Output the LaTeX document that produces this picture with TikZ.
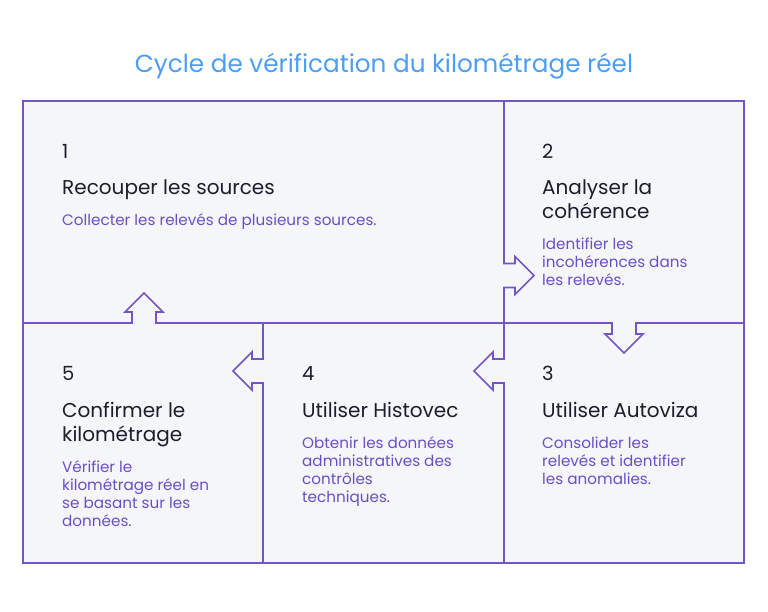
\documentclass[tikz,border=0pt]{standalone}
\usepackage{fontspec}
\setmainfont{Poppins}
\usepackage{tikz}
\definecolor{cyclepurple}{HTML}{7356C4}
\definecolor{cycletext}{HTML}{6A4FC6}
\definecolor{cycleblue}{HTML}{4C9DF6}
\definecolor{cyclefill}{HTML}{F5F6FA}
\definecolor{cycledark}{HTML}{1D1D2B}

\begin{document}
\begin{tikzpicture}[
    x=1pt, y=-1pt,
    frame/.style={draw=cyclepurple, line width=1.6pt, line join=miter},
    stepnum/.style={anchor=base west, inner sep=0pt, font=\fontsize{19.5}{24}\selectfont, text=cycledark},
    stephead/.style={anchor=base west, inner sep=0pt, align=left, font=\fontsize{20}{24}\selectfont, text=cycledark},
    stepdesc/.style={anchor=base west, inner sep=0pt, align=left, font=\fontsize{15.2}{18}\selectfont, text=cycletext}
]
\useasboundingbox (0,0) rectangle (768,612);

% title
\node[font=\fontsize{24.7}{30}\selectfont, text=cycleblue] (title) at (384,66) {Cycle de vérification du kilométrage réel};

% frame
\coordinate (tl) at (23,101);
\coordinate (br) at (744,563);
\fill[cyclefill] (tl) rectangle (br);

% dividers with arrows
\draw[frame] (504,101) -- (504,263.5) -- (515,263.5) -- (515,256.5) -- (534,275.5) -- (515,294.5) -- (515,287.5) -- (504,287.5) -- (504,323);
\draw[frame] (23,323) -- (132,323) -- (132,312) -- (125,312) -- (144,293) -- (163,312) -- (156,312) -- (156,323)
    -- (612,323) -- (612,334) -- (605,334) -- (624,353) -- (643,334) -- (636,334) -- (636,323) -- (744,323);
\draw[frame] (504,323) -- (504,359) -- (493,359) -- (493,352) -- (474,371) -- (493,390) -- (493,383) -- (504,383) -- (504,563);
\draw[frame] (263,323) -- (263,359) -- (252,359) -- (252,352) -- (233,371) -- (252,390) -- (252,383) -- (263,383) -- (263,563);
\draw[frame] (tl) rectangle (br);

% step 1 (base = last line)
\node[stepnum] (n1) at (62,158.5) {1};
\node[stephead] (h1) at (62,195) {Recouper les sources};
\node[stepdesc] (d1) at (62,226) {Collecter les relevés de plusieurs sources.};

% step 2
\node[stepnum] (n2) at (542,158.5) {2};
\node[stephead] (h2) at (542,219) {Analyser la\\cohérence};
\node[stepdesc] (d2) at (542,286) {Identifier les\\incohérences dans\\les relevés.};

% step 3
\node[stepnum] (n3) at (542,380.5) {3};
\node[stephead] (h3) at (542,417) {Utiliser Autoviza};
\node[stepdesc] (d3) at (542,484) {Consolider les\\relevés et identifier\\les anomalies.};

% step 4
\node[stepnum] (n4) at (302,380.5) {4};
\node[stephead] (h4) at (302,417) {Utiliser Histovec};
\node[stepdesc] (d4) at (302,502) {Obtenir les données\\administratives des\\contrôles\\techniques.};

% step 5
\node[stepnum] (n5) at (62,380.5) {5};
\node[stephead] (h5) at (62,441) {Confirmer le\\kilométrage};
\node[stepdesc] (d5) at (62,526) {Vérifier le\\kilométrage réel en\\se basant sur les\\données.};

\end{tikzpicture}
\end{document}
